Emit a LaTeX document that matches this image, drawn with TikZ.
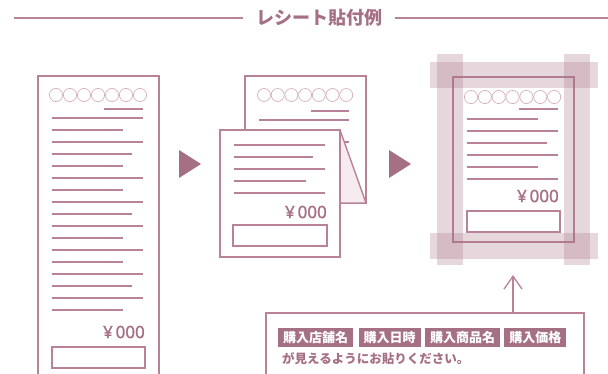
\documentclass[tikz,border=0pt]{standalone}
\usepackage{fontspec}
\setmainfont{Noto Sans}
\newfontfamily\jpfont{Noto Sans CJK JP}
\newfontfamily\pricefont{Noto Sans}[FakeBold=1.2]
\usetikzlibrary{arrows.meta,positioning}
\definecolor{rosedark}{RGB}{166,112,132}
\definecolor{roseline}{RGB}{184,130,152}
\definecolor{roselight}{RGB}{214,176,190}
\definecolor{rosefold}{RGB}{246,236,240}
\tikzset
{
	receipt/.style  = {draw=roseline, line width=1.4pt, fill=white},
	textline/.style = {draw=roseline, line width=1.3pt},
	dot/.style      = {draw=roselight, line width=0.7pt},
	price/.style    = {text=rosedark, font=\pricefont\fontsize{17}{17}\selectfont, anchor=east, inner sep=0pt},
	band/.style     = {fill=rosedark, fill opacity=0.28},
	tag/.style      = {fill=rosedark, text=white, font=\jpfont\bfseries\fontsize{13}{13}\selectfont, inner xsep=5pt, inner ysep=0pt, minimum height=19pt}
}

\begin{document}
\begin{tikzpicture}[x=1pt, y=-1pt]
\useasboundingbox (0,0) rectangle (608,374);

% title
\node[text=rosedark, font=\jpfont\bfseries\fontsize{18}{18}\selectfont, inner xsep=12.5pt] (title) at (319,18) {レシート貼付例};
\coordinate (titleleft) at (14,18);
\coordinate (titleright) at (608,18);
\draw[textline] (titleleft) -- (title.west);
\draw[textline] (title.east) -- (titleright);

% long receipt
\draw[receipt] (38,374) -- (38,76) -- (159,76) -- (159,374);
\foreach \i in {0,...,6}
  \draw[dot] (56+14*\i,95) circle[radius=6.6pt];
\draw[textline] (104,109) -- (143,109);
\foreach \y/\e in {118/143,130/123,142/143,154/132,166/123,178/143,190/123,202/143,214/132,226/143,238/123,250/143,262/123,274/143,286/132,298/143,310/123}
  \draw[textline] (52,\y) -- (\e,\y);
\node[price] (price1) at (145,332) {¥\,000};
\draw[receipt] (52,347) rectangle (145,368);

\fill[rosedark] (179,150) -- (201,164) -- (179,178) -- cycle;

% folded receipt
\draw[receipt] (245,76) rectangle (366,203);
\foreach \i in {0,...,6}
  \draw[dot] (264+13.7*\i,95) circle[radius=6.5pt];
\draw[textline] (311,111) -- (349,111);
\draw[textline] (259,120) -- (349,120);
\draw[textline] (259,142) -- (349,142);
\filldraw[fill=rosefold, draw=roseline, line width=1.4pt, line join=round] (340,130) -- (366,203) -- (340,203);
\draw[receipt] (220,130) rectangle (340,257);
\foreach \y/\e in {145/325,157/313,169/325,181/306,193/325}
  \draw[textline] (234,\y) -- (\e,\y);
\node[price] (price2) at (327,212) {¥\,000};
\draw[receipt] (233,225) rectangle (327,246);

\fill[rosedark] (389,150) -- (411,164) -- (389,178) -- cycle;

% receipt with margins
\draw[receipt] (453,77) rectangle (574,242);
\foreach \i in {0,...,6}
  \draw[dot] (471+13.85*\i,97) circle[radius=6.6pt];
\draw[textline] (519,109) -- (558,109);
\foreach \y/\e in {119/538,131/558,143/547,155/558,167/538,179/558}
  \draw[textline] (467,\y) -- (\e,\y);
\node[price] (price3) at (559,196) {¥\,000};
\draw[receipt] (467,211) rectangle (560,232);
\fill[band] (430,62) rectangle (598,88);
\fill[band] (430,233) rectangle (598,259);
\fill[band] (437,54) rectangle (463,265);
\fill[band] (564,54) rectangle (590,265);

% note
\draw[receipt, fill=none] (266,374) |- (584,313) -- (584,374);
\coordinate (notetop) at (513,313);
\coordinate (arrowtip) at (513,275);
\draw[textline, -{Straight Barb[length=13pt,width=18pt]}] (notetop) -- (arrowtip);
\node[tag, anchor=west] (store) at (278,337.5) {購入店舗名};
\node[tag, right=5pt of store] (date) {購入日時};
\node[tag, right=4pt of date] (item) {購入商品名};
\node[tag, right=4pt of item] (cost) {購入価格};
\node[anchor=west, inner sep=0pt, text=rosedark, font=\jpfont\bfseries\fontsize{12.5}{12.5}\selectfont] (notice) at (282,359) {が見えるようにお貼りください。};
\end{tikzpicture}
\end{document}
